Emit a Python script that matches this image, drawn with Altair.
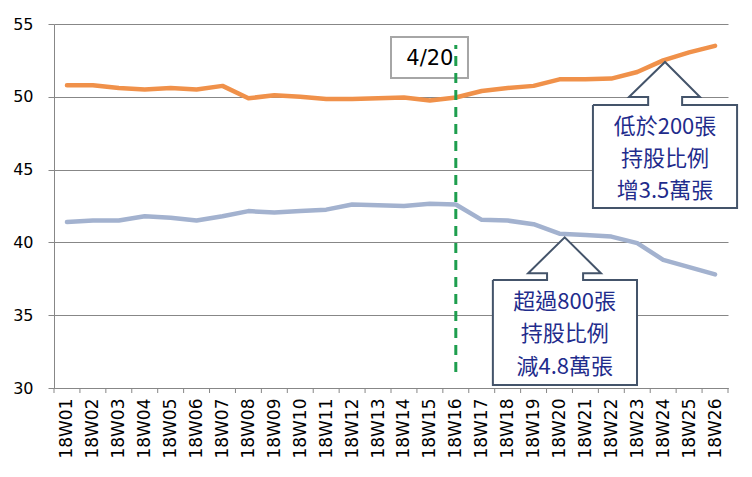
import altair as alt
import pandas as pd

weeks = ["18W%02d" % i for i in range(1, 27)]
low200 = [50.8, 50.8, 50.6, 50.5, 50.6, 50.5, 50.75, 49.9, 50.1, 50.0, 49.85, 49.85, 49.9,
          49.95, 49.75, 49.95, 50.4, 50.6, 50.75, 51.2, 51.2, 51.25, 51.7, 52.5, 53.05, 53.5]
over800 = [41.4, 41.5, 41.5, 41.8, 41.7, 41.5, 41.8, 42.15, 42.05, 42.15, 42.25, 42.6, 42.55,
           42.5, 42.65, 42.6, 41.55, 41.5, 41.25, 40.6, 40.5, 40.4, 39.95, 38.8, 38.3, 37.8]

series_names = ["低於200張", "超過800張"]
y_ticks = [30, 35, 40, 45, 50, 55]

# annotation texts
marker_label = "4/20"
marker_week = 16
callout_up_lines = ["低於200張", "持股比例", "增3.5萬張"]
callout_dn_lines = ["超過800張", "持股比例", "減4.8萬張"]

rows = []
for i, w in enumerate(weeks):
    rows.append({"i": i + 1, "v": low200[i], "s": series_names[0]})
    rows.append({"i": i + 1, "v": over800[i], "s": series_names[1]})
df = pd.DataFrame(rows)

W, H = 674, 364
xsc = alt.Scale(domain=[0.5, 26.5], nice=False, zero=False)
ysc = alt.Scale(domain=[30, 55], nice=False, zero=False)
GRAY = "#878787"
label_arr = "[" + ",".join("'%s'" % w for w in weeks) + "]"
xax = alt.Axis(values=list(range(1, 27)), labelExpr=label_arr + "[datum.value-1]", labelAngle=-90,
               ticks=False, tickSize=0, labelPadding=10, domainColor=GRAY, grid=False,
               labelFontSize=17, labelFont="DejaVu Sans", labelColor="#000000", title=None,
               labelOverlap=False, labelBound=False, labelFlush=False)
yax = alt.Axis(values=y_ticks, grid=True, gridColor=GRAY, domainColor=GRAY, tickColor=GRAY,
               tickSize=6, labelFontSize=16, labelFont="DejaVu Sans", labelColor="#000000",
               labelPadding=15, title=None, labelOverlap=False)

def X(f):
    return alt.X(f, type="quantitative", scale=xsc, axis=xax)

def Y(f):
    return alt.Y(f, type="quantitative", scale=ysc, axis=yax)

lines = alt.Chart(df).mark_line(strokeWidth=4.5, strokeJoin="round", strokeCap="round").encode(
    x=X("i"), y=Y("v"),
    color=alt.Color("s:N", scale=alt.Scale(domain=series_names, range=["#F0914A", "#A3B2CF"]), legend=None),
)

# x tick marks at category boundaries
tdf = pd.DataFrame({"b": [k + 0.5 for k in range(0, 27)]})
xticks = alt.Chart(tdf).mark_rule(color=GRAY, strokeWidth=1).encode(
    x=X("b"), y=alt.value(H), y2=alt.value(H + 5))

# 4/20 box + dashed line
mbox = pd.DataFrame([{"x": 13.5, "x2": 16.47, "y": 54.11, "y2": 51.29}])
mbox_ch = alt.Chart(mbox).mark_rect(fill="white", stroke="#A6A6A6", strokeWidth=2).encode(
    x=X("x"), x2="x2", y=Y("y"), y2="y2")
mtext = alt.Chart(pd.DataFrame([{"x": 15.0, "y": 52.6, "t": marker_label}])).mark_text(
    font="DejaVu Sans", fontSize=21, color="#000000", baseline="middle", align="center").encode(
    x=X("x"), y=Y("y"), text="t:N")
dash = alt.Chart(pd.DataFrame([{"x": marker_week, "y": 31.1, "y2": 53.56}])).mark_rule(
    color="#1E9E4E", strokeWidth=3, strokeDash=[10, 7]).encode(x=X("x"), y=Y("y"), y2="y2")

# callouts (shape geometry in data units)
callouts = [
    # id, tip_x, tip_y, base_l, base_r, base_y, stem_l, stem_r, box_top, box_l, box_r, box_bottom
    ("up", 24.07, 52.39, 22.68, 25.42, 49.99, 23.42, 24.73, 49.44, 21.29, 26.85, 42.36),
    ("dn", 20.2, 40.35, 18.79, 21.6, 37.88, 19.52, 20.91, 37.42, 17.43, 22.99, 30.21),
]
poly, tri, rects = [], [], []
for (cid, tx, ty, bl, br, by, sl, sr, bt, xl, xr, bb) in callouts:
    pts = [(xl, bt), (sl, bt), (sl, by), (bl, by), (tx, ty), (br, by), (sr, by), (sr, bt),
           (xr, bt), (xr, bb), (xl, bb), (xl, bt)]
    for k, (px, py) in enumerate(pts):
        poly.append({"c": cid, "o": k, "x": px, "y": py})
    for px, py in [(bl, by), (tx, ty), (br, by)]:
        tri.append({"c": cid, "x": px, "y": py, "y2": by})
    rects.append({"c": cid, "x": xl, "x2": xr, "y": bt, "y2": bb})
    rects.append({"c": cid, "x": sl, "x2": sr, "y": by, "y2": bt - 0.05})

rect_fill = alt.Chart(pd.DataFrame(rects)).mark_rect(fill="white", strokeWidth=0).encode(
    x=X("x"), x2="x2", y=Y("y"), y2="y2")
tri_fill = alt.Chart(pd.DataFrame(tri)).mark_area(fill="white", opacity=1).encode(
    x=X("x"), y=Y("y"), y2="y2", detail="c:N")
outline = alt.Chart(pd.DataFrame(poly)).mark_line(color="#44546A", strokeWidth=2, strokeJoin="miter").encode(
    x=X("x"), y=Y("y"), detail="c:N", order="o:Q")

ctext = []
for k, t in enumerate(callout_up_lines):
    ctext.append({"x": 24.07, "y": [47.93, 45.73, 43.53][k], "t": t})
for k, t in enumerate(callout_dn_lines):
    ctext.append({"x": 20.2, "y": [35.93, 33.7, 31.46][k], "t": t})
ctext_ch = alt.Chart(pd.DataFrame(ctext)).mark_text(
    font="Noto Sans CJK TC", fontSize=22, color="#1F2C8C", baseline="middle", align="center").encode(
    x=X("x"), y=Y("y"), text="t:N")

chart = alt.layer(lines, xticks, mbox_ch, mtext, dash, rect_fill, tri_fill, outline, ctext_ch).properties(
    width=W, height=H,
    autosize=alt.AutoSizeParams(type="none"),
    padding={"left": 46, "top": 16, "right": 16, "bottom": 80},
    background="white",
).configure_view(stroke=None)

chart.save("out.html", embed_options={"renderer": "svg", "actions": False})
